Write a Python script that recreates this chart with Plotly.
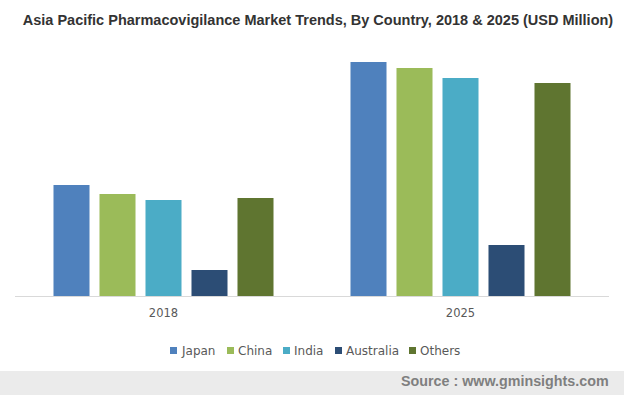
import plotly.graph_objects as go

years = ["2018", "2025"]
countries = ["Japan", "China", "India", "Australia", "Others"]
values = {
    "Japan": [111, 234],
    "China": [102, 228],
    "India": [96, 218],
    "Australia": [26, 51],
    "Others": [98, 213],
}
colors = {
    "Japan": "#4F81BD",
    "China": "#9BBB59",
    "India": "#4BACC6",
    "Australia": "#2C4D75",
    "Others": "#5F7530",
}

W, H = 624, 395
PL, PR, PT, PB = 15, 609, 50, 296  # plot area in pixels


def px_x(p):
    return (p - PL) / (PR - PL)


def px_y(p):
    return (PB - p) / (PB - PT)


fig = go.Figure()
for c in countries:
    fig.add_trace(go.Bar(x=years, y=values[c], name=c, marker_color=colors[c],
                         marker_line_width=0, showlegend=False))

fig.update_layout(
    width=W, height=H,
    margin=dict(l=PL, r=W - PR, t=PT, b=H - PB, pad=0),
    paper_bgcolor="white", plot_bgcolor="white",
    barmode="group", bargap=0.2256, bargroupgap=0.217,
    title=dict(text="<b>Asia Pacific Pharmacovigilance Market Trends, By Country, 2018 & 2025 (USD Million)</b>",
               x=318 / W, xanchor="center", y=1 - 20 / H, yanchor="middle",
               font=dict(family="Liberation Sans, Arial", size=14.5, color="#333333")),
    xaxis=dict(showline=True, linecolor="#D9D9D9", linewidth=1, ticks="",
               ticklabelstandoff=6,
               tickfont=dict(family="DejaVu Sans, Verdana", size=11.5, color="#595959"),
               showgrid=False, zeroline=False),
    yaxis=dict(range=[0, PB - PT], visible=False, showgrid=False, zeroline=False),
    showlegend=False,
)

# custom legend (small squares right before labels, as in the reference)
leg_marker_x = [170, 227, 283, 335, 409]
leg_y = 350.5
for c, mx in zip(countries, leg_marker_x):
    fig.add_shape(type="rect", xref="paper", yref="paper",
                  x0=px_x(mx), x1=px_x(mx + 7), y0=px_y(leg_y - 3.5), y1=px_y(leg_y + 3.5),
                  fillcolor=colors[c], line_width=0)
    fig.add_annotation(text=c, xref="paper", yref="paper", x=px_x(mx + 8.5), xanchor="left",
                       y=px_y(leg_y), yanchor="middle", showarrow=False,
                       font=dict(family="DejaVu Sans, Verdana", size=12, color="#595959"))

# source band
fig.add_shape(type="rect", xref="paper", yref="paper",
              x0=px_x(-5), x1=px_x(W + 5), y0=px_y(371), y1=px_y(H + 5),
              fillcolor="#EBEBEB", line_width=0, layer="below")
fig.add_annotation(text="<b>Source : www.gminsights.com</b>", xref="paper", yref="paper",
                   x=px_x(611), xanchor="right", y=px_y(380.5), yanchor="middle",
                   showarrow=False,
                   font=dict(family="Liberation Sans, Arial", size=14.3, color="#7F7F7F"))

fig.write_html("out.html", config={"displayModeBar": False},
               post_script="document.body.style.margin='0';document.body.style.overflow='hidden';")
